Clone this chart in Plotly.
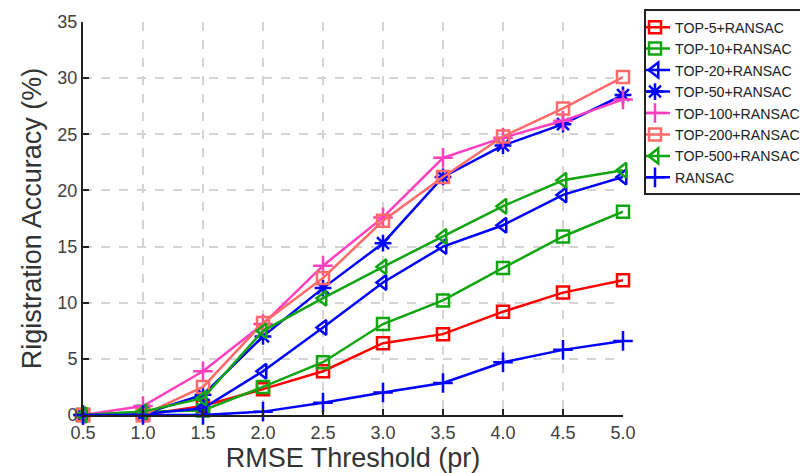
import plotly.graph_objects as go

thresholds = [0.5, 1.0, 1.5, 2.0, 2.5, 3.0, 3.5, 4.0, 4.5, 5.0]
x_tick_labels = ["0.5", "1.0", "1.5", "2.0", "2.5", "3.0", "3.5", "4.0", "4.5", "5.0"]
y_ticks = [0, 5, 10, 15, 20, 25, 30, 35]

top5 = [0.0, 0.0, 0.8, 2.3, 3.9, 6.4, 7.2, 9.2, 10.9, 12.0]
top10 = [0.0, 0.3, 0.4, 2.5, 4.7, 8.1, 10.2, 13.1, 15.9, 18.1]
top20 = [0.0, 0.1, 0.6, 3.9, 7.8, 11.8, 15.0, 16.9, 19.6, 21.2]
top50 = [0.0, 0.1, 1.8, 7.0, 11.3, 15.3, 21.2, 24.0, 25.9, 28.5]
top100 = [0.0, 0.8, 3.9, 8.1, 13.3, 17.6, 22.9, 24.7, 26.2, 28.1]
top200 = [0.0, 0.0, 2.5, 8.2, 12.2, 17.3, 21.2, 24.8, 27.3, 30.1]
top500 = [0.0, 0.3, 1.5, 7.5, 10.4, 13.2, 15.9, 18.6, 20.9, 21.8]
ransac = [0.0, 0.0, 0.0, 0.3, 1.1, 2.0, 2.85, 4.7, 5.8, 6.6]

series = [
    ("TOP-5+RANSAC", top5, "#ff0000", "square-open"),
    ("TOP-10+RANSAC", top10, "#12a512", "square-open"),
    ("TOP-20+RANSAC", top20, "#0000ff", "triangle-left-open"),
    ("TOP-50+RANSAC", top50, "#0000ff", "asterisk-open"),
    ("TOP-100+RANSAC", top100, "#ff3fc0", "cross-thin-open"),
    ("TOP-200+RANSAC", top200, "#ff6a6a", "square-open"),
    ("TOP-500+RANSAC", top500, "#12a512", "triangle-left-open"),
    ("RANSAC", ransac, "#0000ff", "cross-thin-open"),
]

fig = go.Figure()
for name, vals, color, sym in series:
    size = 13 if "triangle" in sym else (14 if "cross" in sym or "asterisk" in sym else 12)
    fig.add_trace(go.Scatter(
        x=thresholds, y=vals, name=name, mode="lines+markers",
        line=dict(color=color, width=2.5),
        marker=dict(symbol=sym, size=size, color=color, line=dict(color=color, width=2.5)),
        cliponaxis=False,
    ))

font_family = "Liberation Sans, Arial, sans-serif"
fig.update_layout(
    width=808, height=473,
    margin=dict(l=75, r=193, t=14, b=66, autoexpand=False),
    paper_bgcolor="white", plot_bgcolor="white",
    font=dict(family=font_family, color="#333333"),
    showlegend=True,
    legend=dict(
        x=(636 - 75) / 540, y=1.032, xanchor="left", yanchor="top",
        bgcolor="white", bordercolor="#222222", borderwidth=2,
        font=dict(size=14.2, color="#222222", family=font_family),
        itemwidth=30, tracegroupgap=0, indentation=-11,
    ),
    xaxis=dict(
        range=[0.5, 5.0], tickvals=thresholds, ticktext=x_tick_labels,
        showgrid=True, gridcolor="#d4d4d4", griddash="dash", gridwidth=2,
        showline=True, linecolor="#222222", linewidth=2,
        ticks="inside", ticklen=6, tickwidth=2, tickcolor="#222222",
        tickfont=dict(size=18, color="#404040"),
        title=dict(text="RMSE Threshold (pr)", font=dict(size=27, color="#333333"), standoff=4),
        zeroline=False, mirror=False,
    ),
    yaxis=dict(
        range=[0, 35], tickvals=y_ticks,
        showgrid=True, gridcolor="#d4d4d4", griddash="dash", gridwidth=2,
        showline=True, linecolor="#222222", linewidth=2,
        ticks="inside", ticklen=6, tickwidth=2, tickcolor="#222222",
        tickfont=dict(size=18, color="#404040"),
        title=dict(text="Rigistration Accuracy (%)", font=dict(size=27, color="#333333"), standoff=8),
        zeroline=False, mirror=False,
    ),
)

fig.write_html("out.html")
